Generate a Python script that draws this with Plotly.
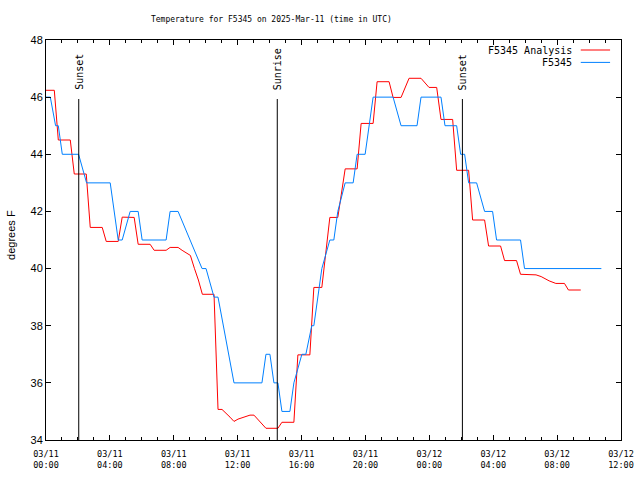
import plotly.graph_objects as go
import pandas as pd

start = pd.Timestamp("2025-03-11 00:00")

analysis_hours = [0, 0.52, 0.77, 1.52, 1.77, 2.52, 2.77, 3.52, 3.77, 4.52, 4.77, 5.52, 5.77,
                  6.52, 6.77, 7.52, 7.77, 8.27, 8.52, 9.04, 9.29, 9.54, 9.79, 10.52, 10.77,
                  11.02, 11.52, 11.77, 12.02, 12.77, 13.02, 13.77, 14.52, 14.77, 15.52, 15.77,
                  16.52, 16.77, 17.27, 17.77, 18.27, 18.73, 19.48, 19.73, 20.48, 20.73, 21.48,
                  21.73, 22.23, 22.73, 23.48, 23.98, 24.46, 24.73, 25.46, 25.71, 26.46, 26.71,
                  27.46, 27.71, 28.46, 28.71, 29.46, 29.71, 30.68, 31.0, 31.5, 31.92, 32.46,
                  32.71, 33.48]
analysis_temps = [46.24, 46.24, 44.5, 44.5, 43.31, 43.31, 41.44, 41.44, 40.95, 40.95, 41.8, 41.79, 40.85,
                  40.85, 40.64, 40.64, 40.74, 40.74, 40.64, 40.46, 40.01, 39.6, 39.10, 39.10, 35.07,
                  35.07, 34.8, 34.65, 34.73, 34.87, 34.87, 34.41, 34.41, 34.62, 34.62, 36.98,
                  36.98, 39.34, 39.34, 41.79, 41.79, 43.49, 43.49, 45.08, 45.08, 46.54, 46.54,
                  45.99, 45.99, 46.66, 46.66, 46.34, 46.34, 45.22, 45.22, 43.44, 43.44, 41.70,
                  41.70, 40.79, 40.79, 40.28, 40.28, 39.80, 39.78, 39.72, 39.57, 39.48, 39.48,
                  39.25, 39.25]

station_hours = [0, 0.27, 0.6, 0.77, 1.02, 2.04, 2.54, 4.02, 4.52, 4.77, 5.27, 5.77, 6.02, 7.52,
                 7.77, 8.27, 9.77, 10.02, 10.52, 10.77, 11.77, 13.52, 13.77, 14.02, 14.27, 14.52,
                 14.77, 15.27, 15.52, 16.02, 16.27, 16.64, 16.77, 17.02, 17.27, 17.77, 18.02, 18.27,
                 18.73, 19.23, 19.48, 19.98, 20.23, 20.48, 21.73, 22.23, 23.23, 23.48, 24.73, 24.98,
                 25.71, 25.96, 26.21, 26.46, 26.96, 27.46, 27.96, 28.21, 29.71, 29.96, 34.77]
station_temps = [46, 46, 45, 45, 44, 44, 43, 43, 41, 41, 42, 42, 41, 41,
                 42, 42, 40, 40, 39, 39, 36, 36, 37, 37, 36, 36,
                 35, 35, 36, 37, 37, 38, 38, 39, 40, 41, 41, 42,
                 43, 43, 44, 44, 45, 46, 46, 45, 45, 46, 46, 45,
                 45, 44, 44, 43, 43, 42, 42, 41, 41, 40, 40]

event_hours = [2.05, 14.48, 26.07]
event_labels = ["Sunset", "Sunrise", "Sunset"]

series_names = ["F5345 Analysis", "F5345"]
series_colors = ["#ff0000", "#0080ff"]


def to_time(hs):
    return [start + pd.Timedelta(hours=h) for h in hs]


fig = go.Figure()
fig.add_trace(go.Scatter(x=to_time(analysis_hours), y=analysis_temps, mode="lines",
                         line=dict(color=series_colors[0], width=1), name=series_names[0]))
fig.add_trace(go.Scatter(x=to_time(station_hours), y=station_temps, mode="lines",
                         line=dict(color=series_colors[1], width=1), name=series_names[1]))

mono = "DejaVu Sans Mono"
sans = "Liberation Sans"

for h, lab in zip(event_hours, event_labels):
    t = start + pd.Timedelta(hours=h)
    fig.add_shape(type="line", xref="x", yref="paper", x0=t, x1=t, y0=0, y1=0.8525,
                  line=dict(color="black", width=1))
    fig.add_annotation(x=t, y=0.87, xref="x", yref="paper", text=lab, textangle=-90,
                       showarrow=False, xanchor="center", yanchor="bottom",
                       font=dict(family=mono, size=10, color="black"))

# legend (text left, sample right)
legend_y = [0.975, 0.944]
for name, col, ly in zip(series_names, series_colors, legend_y):
    fig.add_annotation(x=0.918, y=ly, xref="paper", yref="paper", text=name, showarrow=False,
                       xanchor="right", yanchor="middle", font=dict(family=mono, size=10, color="black"))
    fig.add_shape(type="line", xref="paper", yref="paper", x0=0.930, x1=0.981, y0=ly, y1=ly,
                  line=dict(color=col, width=1))

# y axis label
fig.add_annotation(x=-0.061, y=0.5125, xref="paper", yref="paper", text="degrees F", textangle=-90,
                   showarrow=False, xanchor="center", yanchor="middle",
                   font=dict(family=sans, size=11, color="black"))

fig.update_layout(
    width=640, height=480,
    margin=dict(l=46, r=19, t=40, b=40),
    paper_bgcolor="white", plot_bgcolor="white",
    showlegend=False,
    title=dict(text="Temperature for F5345 on 2025-Mar-11 (time in UTC)", x=0.424, xref="container",
               xanchor="center", y=1 - 19 / 480, yref="container", yanchor="middle",
               font=dict(family=mono, size=8, color="black")),
)
fig.update_xaxes(
    type="date", automargin=False,
    range=[start, start + pd.Timedelta(hours=36)],
    tick0=start, dtick=4 * 3600000, tickformat="%m/%d<br>%H:%M",
    ticks="inside", ticklen=5, tickcolor="black", tickwidth=1,
    minor=dict(dtick=3600000, ticks="inside", ticklen=3, tickcolor="black", tickwidth=1),
    showline=True, linecolor="black", linewidth=1, mirror="ticks",
    showgrid=False, zeroline=False, ticklabelstandoff=6,
    tickfont=dict(family=mono, size=8.5, color="black"),
)
fig.update_yaxes(
    range=[34, 48], dtick=2, tick0=34, automargin=False,
    ticks="inside", ticklen=5, tickcolor="black", tickwidth=1,
    showline=True, linecolor="black", linewidth=1, mirror="ticks",
    showgrid=False, zeroline=False,
    tickfont=dict(family=sans, size=11, color="black"),
)

fig.write_html("out.html", config={"displayModeBar": False},
               post_script="document.body.style.margin='0';")
